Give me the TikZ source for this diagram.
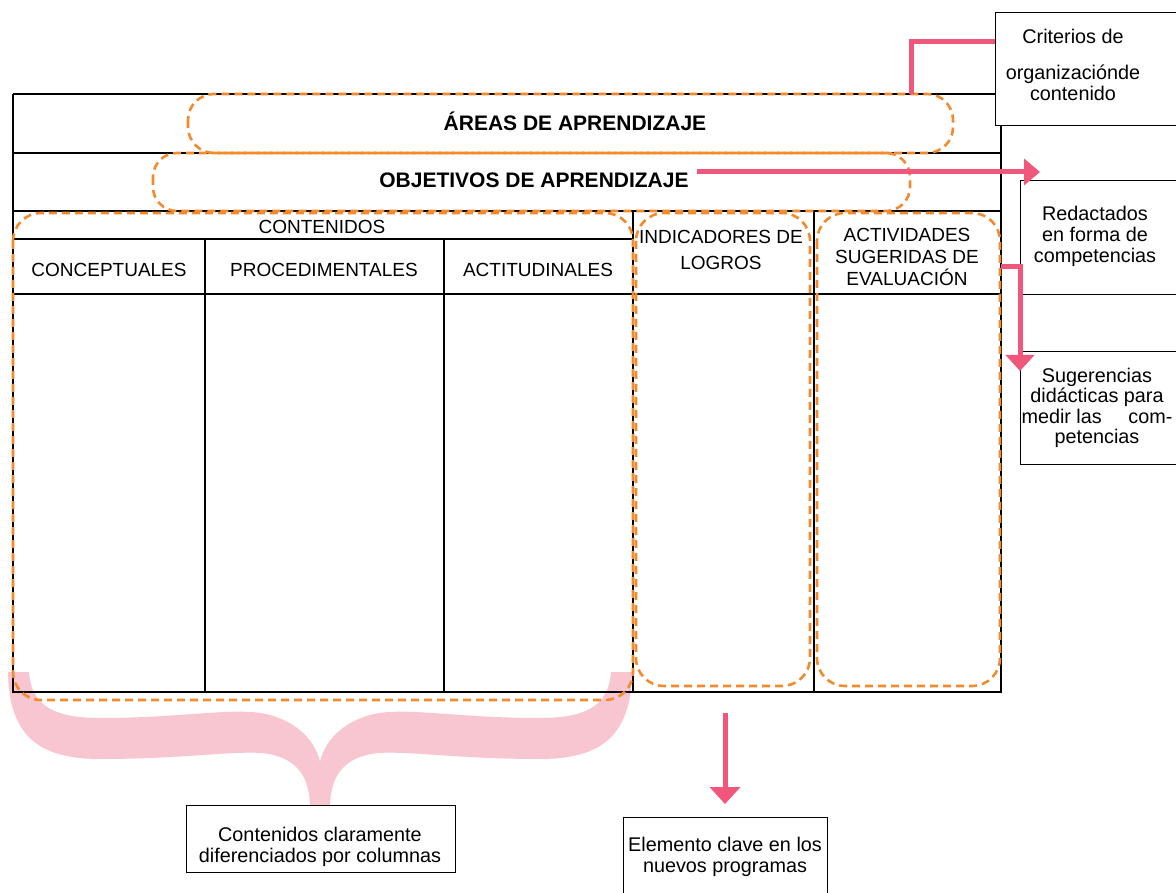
\documentclass[tikz,border=0pt]{standalone}
\usepackage{fontspec}
\setmainfont{Liberation Sans}
\usetikzlibrary{arrows.meta}
\definecolor{pinkA}{HTML}{F0577A}
\definecolor{pinkB}{HTML}{F8C6D1}
\definecolor{orA}{HTML}{F28A2E}
\begin{document}
\begin{tikzpicture}[x=1pt,y=-1pt,
  tline/.style={line width=1.1pt, black},
  odash/.style={draw=orA, line width=2.6pt, dash pattern=on 8pt off 5pt},
  pk/.style={draw=pinkA, line width=5pt},
  pkarrow/.style={pk, -{Triangle[width=26pt,length=16pt]}},
  lbl/.style={align=center, font=\fontsize{19}{21}\selectfont, inner sep=0pt},
  lowl/.style={align=center, font=\fontsize{19.8}{21}\selectfont, inner sep=0pt},
  ttl/.style={font=\fontsize{21}{24}\selectfont\bfseries, inner sep=0pt},
  boxn/.style={draw, line width=1.1pt, inner sep=0pt, anchor=north west},
]
\useasboundingbox (0,0) rectangle (1176,893);
\fill[white] (0,0) rectangle (1176,893);

% pink brace
\fill[pinkB] (8,672) .. controls (9,737) and (40,759) .. (100,759)
  .. controls (180,759) and (230,751) .. (262,753)
  .. controls (300,757) and (309,780) .. (310,805)
  -- (330,805)
  .. controls (331,780) and (340,757) .. (378,753)
  .. controls (410,751) and (460,759) .. (540,759)
  .. controls (600,759) and (631,737) .. (632,672)
  -- (611,672)
  .. controls (609,703) and (590,718) .. (540,718)
  .. controls (470,718) and (420,710) .. (390,712)
  .. controls (350,714) and (325,738) .. (320,762)
  .. controls (315,738) and (290,714) .. (250,712)
  .. controls (220,710) and (170,718) .. (100,718)
  .. controls (50,718) and (31,703) .. (29,672) -- cycle;

% table lines
\draw[tline] (13,94) -- (995,94);
\draw[tline] (13,94) -- (13,692) -- (1001,692) -- (1001,125);
\draw[tline] (13,153) -- (1001,153);
\draw[tline] (13,211) -- (1001,211);
\draw[tline] (13,239) -- (633,239);
\draw[tline] (13,294) -- (1001,294);
\draw[tline] (205,239) -- (205,692);
\draw[tline] (444,239) -- (444,692);
\draw[tline] (633,211) -- (633,692);
\draw[tline] (814,211) -- (814,692);

% dashed rounded groups
\draw[odash, rounded corners=26pt] (188,94) rectangle (953,153);
\draw[odash, rounded corners=24pt] (153,153) rectangle (910,211);
\draw[odash, rounded corners=28pt] (13,213) rectangle (633,700);
\draw[odash, rounded corners=28pt] (636,213) rectangle (810,686);
\draw[odash, rounded corners=28pt] (817,213) rectangle (1000,686);

% table texts
\node[ttl] (areas) at (575,121) {ÁREAS DE APRENDIZAJE};
\node[ttl] (obj) at (534,180) {OBJETIVOS DE APRENDIZAJE};
\node[lbl] (cont) at (322,227) {CONTENIDOS};
\node[lbl] (conc) at (109,270) {CONCEPTUALES};
\node[lbl] (proc) at (324,270) {PROCEDIMENTALES};
\node[lbl] (acti) at (538,270) {ACTITUDINALES};
\node[lbl] (ind) at (721,250) {INDICADORES DE\\[5pt]LOGROS};
\node[lbl, font=\fontsize{19}{22}\selectfont] (act) at (907,257) {ACTIVIDADES\\SUGERIDAS DE\\EVALUACIÓN};

% side boxes
\node[boxn, minimum width=190pt, minimum height=113pt] (critbox) at (995,12) {};
\node[lowl] (crit) at (1073,65) {Criterios de\\[15pt]organizaciónde\\contenido};
\node[boxn, minimum width=165pt, minimum height=114pt] (redbox) at (1020,180) {};
\node[lowl] (red) at (1095,236) {Redactados\\en forma de\\competencias};
\node[boxn, minimum width=165pt, minimum height=113pt] (sugbox) at (1020,351) {};
\node[lowl, font=\fontsize{19.8}{20.5}\selectfont] (sug) at (1097,408) {Sugerencias\\didácticas para\\\makebox[151pt]{medir las\hfill com-}\\petencias};

% bottom boxes
\node[boxn, minimum width=269pt, minimum height=67pt] (ccbox) at (186,805) {};
\node[lowl] (cc) at (320,847) {Contenidos claramente\\diferenciados por columnas};
\node[boxn, minimum width=204pt, minimum height=85pt] (elbox) at (623,817) {};
\node[lowl] (el) at (725,857) {Elemento clave en los\\nuevos programas};

% connectors
\coordinate (objEnd) at (697,172);
\coordinate (redTip) at (1040,172);
\draw[pkarrow] (objEnd) -- (redTip);

\coordinate (critA) at (995,42);
\coordinate (critB) at (911,94);
\draw[pk] (critA) -| (critB);

\coordinate (actA) at (1001,267);
\coordinate (sugTip) at (1020,371);
\draw[pkarrow, -{Triangle[width=28pt,length=16pt]}] (actA) -| (sugTip);

\coordinate (downA) at (725,713);
\coordinate (downTip) at (725,804);
\draw[pkarrow, -{Triangle[width=30pt,length=17pt]}] (downA) -- (downTip);
\end{tikzpicture}
\end{document}
